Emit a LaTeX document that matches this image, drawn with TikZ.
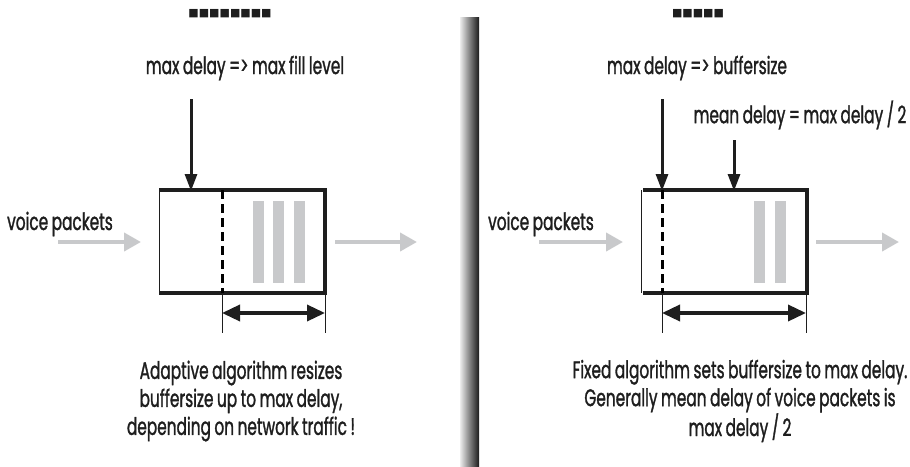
\documentclass[tikz,border=0pt]{standalone}
\usepackage{fontspec}
\setmainfont[FakeStretch=0.64,FakeBold=1.2,WordSpace=0.85]{Poppins}
\newfontfamily\symfont{DejaVu Sans}
\usetikzlibrary{arrows.meta}
\definecolor{packetgray}{RGB}{200,201,203}
\definecolor{inkblack}{RGB}{30,30,30}

\begin{document}
\begin{tikzpicture}[x=1pt, y=-1pt,
  every node/.style={font=\fontsize{24}{28}\selectfont, text=inkblack, inner sep=0pt},
  squares/.style={font=\symfont\fontsize{11}{11}\selectfont},
  frame/.style={line width=3.5pt, draw=inkblack},
  pointer/.style={line width=3pt, draw=inkblack, -{Triangle[length=17pt,width=12pt]}},
  flow/.style={line width=4pt, draw=packetgray, -{Triangle[length=17pt,width=18pt]}},
  span/.style={line width=3.5pt, draw=inkblack, {Triangle[length=18pt,width=16pt]}-{Triangle[length=18pt,width=16pt]}},
  extent/.style={line width=0.7pt, draw=inkblack},
  packet/.style={fill=packetgray, draw=none}]
\useasboundingbox (0,0) rectangle (910,466);

% Adaptive buffer
\node[squares] (ltitle) at (230,14) {■■■■■■■■};
\node (lmax) at (245,68) {max delay => max fill level};
\node (lvoice) at (60,224) {voice packets};
\coordinate (lin) at (58,242);
\coordinate (lbufin) at (141,242);
\coordinate (lbufout) at (335,242);
\coordinate (lout) at (417,242);
\coordinate (ltop) at (191,99);
\draw[extent] (159,190) -- (159,293);
\draw[frame] (159,190) -- (325,190) -- (325,293) -- (159,293);
\draw[line width=3pt, dash pattern=on 9pt off 5pt] (222,190) -- (222,293);
\fill[packet] (253,201) rectangle (264,283);
\fill[packet] (273,201) rectangle (284,283);
\fill[packet] (294,201) rectangle (305,283);
\draw[pointer] (ltop) -- (ltop |- 0,191);
\draw[flow] (lin) -- (lbufin);
\draw[flow] (lbufout) -- (lout);
\draw[extent] (222,293) -- (222,333);
\draw[extent] (325,293) -- (325,333);
\draw[span] (222,313) -- (325,313);
\node[align=center] (lnote) at (241,401) {Adaptive algorithm resizes\\buffersize up to max delay,\\depending on network traffic !};

% Divider
\shade[left color=gray!15, middle color=gray!60, right color=black!90] (460,17) rectangle (479,466);

% Fixed buffer
\node[squares] (rtitle) at (698,14) {■■■■■};
\node (rmax) at (697,68) {max delay => buffersize};
\node (rmean) at (800,115) {mean delay = max delay / 2};
\node (rvoice) at (541,224) {voice packets};
\coordinate (rin) at (539,242);
\coordinate (rbufin) at (623,242);
\coordinate (rbufout) at (816,242);
\coordinate (rout) at (899,242);
\coordinate (rtop) at (662,99);
\coordinate (rmid) at (734,140);
\draw[extent] (641,190) -- (641,293);
\draw[frame] (643,190) -- (807,190) -- (807,293) -- (643,293);
\draw[line width=3pt, dash pattern=on 9pt off 5pt] (662,190) -- (662,293);
\fill[packet] (754,201) rectangle (765,283);
\fill[packet] (775,201) rectangle (786,283);
\draw[pointer] (rtop) -- (rtop |- 0,191);
\draw[pointer] (rmid) -- (rmid |- 0,191);
\draw[flow] (rin) -- (rbufin);
\draw[flow] (rbufout) -- (rout);
\draw[extent] (662,293) -- (662,333);
\draw[extent] (806,293) -- (806,333);
\draw[span] (662,313) -- (806,313);
\node[align=center] (rnote) at (740,401) {Fixed algorithm sets buffersize to max delay.\\Generally mean delay of voice packets is\\max delay / 2};
\end{tikzpicture}
\end{document}
